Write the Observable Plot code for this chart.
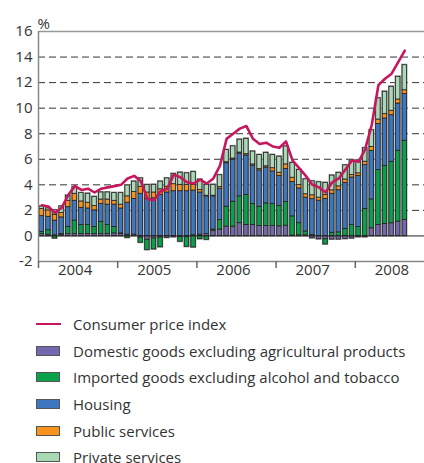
<!DOCTYPE html>
<html><head><meta charset="utf-8">
<script src="https://cdn.jsdelivr.net/npm/d3@7"></script>
<script src="https://cdn.jsdelivr.net/npm/@observablehq/plot@0.6"></script>
<style>
html,body{margin:0;padding:0;background:#fff;overflow:hidden;width:424px;height:463px}
body{font-family:"Open Sans",sans-serif;color:#333}
#legend{padding-top:21px}
.row{display:flex;align-items:center;height:26.6px;font-size:15px;white-space:nowrap}
.sw{width:24px;height:10px;margin-left:36px;margin-right:13px;box-sizing:border-box;border:1px solid #555;flex:none}
.ln{width:25px;height:2px;margin-left:36px;margin-right:12px;flex:none}
</style></head><body>
<div id="chart"></div><div id="legend"></div>
<script>
// Monthly data, Jan 2004 – Aug 2008 (12-month change, %)
const years = ["2004", "2005", "2006", "2007", "2008"];
const yTicks = [-2, 0, 2, 4, 6, 8, 10, 12, 14, 16];
const gridLines = [2, 4, 6, 8, 10, 12, 14];

const cpi = [
  2.4, 2.3, 1.8, 2.2, 3.2, 3.9, 3.6, 3.7, 3.4, 3.7, 3.8, 3.9,
  4.0, 4.5, 4.7, 4.3, 2.9, 2.8, 3.5, 3.7, 4.8, 4.6, 4.2, 4.1,
  4.4, 4.1, 4.5, 5.5, 7.6, 8.0, 8.4, 8.6, 7.6, 7.2, 7.3, 7.0,
  6.9, 7.4, 5.9, 5.3, 4.7, 4.0, 3.8, 3.4, 4.2, 4.5, 5.2, 5.9,
  5.8, 6.8, 8.7, 11.8, 12.3, 12.7, 13.6, 14.5
];
const domestic = [
  0.15, 0.1, 0.05, 0.1, 0.15, 0.15, 0.15, 0.15, 0.15, 0.15, 0.15, 0.2,
  0.15, 0.1, 0.1, -0.13, -0.3, -0.2, -0.13, -0.15, -0.1, -0.1, -0.1, 0.05,
  0.1, 0.15, 0.4, 0.5, 0.73, 0.73, 1.0, 0.86, 0.86, 0.78, 0.78, 0.78,
  0.75, 0.8, 0.03, 0.05, 0.05, -0.18, -0.26, -0.26, -0.28, -0.28, -0.24, -0.2,
  -0.1, -0.1, 0.6, 0.86, 0.94, 0.99, 1.12, 1.25
];
const imported = [
  0.15, 0.35, -0.2, 0.05, 0.55, 1.05, 0.7, 0.7, 0.55, 0.95, 0.7, 0.5,
  0.05, -0.15, 0.0, -0.4, -0.8, -0.85, -0.75, 0.0, 0.0, -0.35, -0.75, -0.9,
  -0.25, -0.3, 0.1, 0.75, 1.56, 1.95, 2.1, 2.34, 1.64, 1.5, 1.77, 1.72,
  1.6, 1.85, 1.5, 0.95, 0.3, 0.08, 0.0, -0.4, 0.25, 0.28, 0.55, 0.85,
  0.7, 2.1, 2.26, 4.3, 4.53, 4.81, 5.55, 6.2
];
const housing = [
  1.25, 1.05, 1.15, 1.3, 1.55, 1.55, 1.35, 1.3, 1.3, 1.4, 1.6, 1.75,
  1.95, 2.5, 2.8, 3.3, 2.9, 2.95, 3.2, 3.4, 3.5, 3.5, 3.5, 3.5,
  3.3, 2.95, 2.6, 2.45, 3.4, 3.3, 3.35, 3.1, 3.0, 2.85, 2.8, 2.55,
  2.35, 2.6, 2.7, 2.72, 2.65, 2.8, 2.76, 2.9, 3.05, 3.3, 3.6, 3.72,
  4.0, 3.45, 3.8, 3.6, 3.72, 3.65, 3.69, 3.65
];
const publicServices = [
  0.55, 0.5, 0.45, 0.35, 0.5, 0.55, 0.5, 0.45, 0.35, 0.35, 0.4, 0.3,
  0.3, 0.5, 0.55, 0.55, 0.5, 0.45, 0.45, 0.45, 0.55, 0.5, 0.5, 0.45,
  0.2, 0.05, 0.05, 0.13, 0.08, 0.08, 0.08, 0.1, 0.1, 0.1, 0.1, 0.25,
  0.25, 0.35, 0.33, 0.26, 0.26, 0.3, 0.24, 0.3, 0.27, 0.3, 0.27, 0.2,
  0.2, 0.26, 0.31, 0.35, 0.34, 0.35, 0.32, 0.3
];
const privateServices = [
  0.2, 0.15, 0.35, 0.5, 0.4, 0.5, 0.65, 0.7, 0.7, 0.55, 0.55, 0.6,
  0.9, 0.85, 0.8, 0.65, 0.58, 0.6, 0.6, 0.65, 0.8, 0.95, 0.9, 1.0,
  0.8, 0.85, 0.85, 0.92, 0.95, 0.95, 1.0, 1.2, 1.0, 1.1, 1.05, 1.03,
  1.25, 1.4, 1.15, 1.18, 1.17, 1.09, 1.2, 0.95, 1.15, 1.05, 1.1, 1.15,
  1.0, 1.05, 1.3, 1.66, 1.75, 1.87, 1.77, 1.96
];

const lineName = "Consumer price index";
const seriesNames = [
  "Domestic goods excluding agricultural products",
  "Imported goods excluding alcohol and tobacco",
  "Housing",
  "Public services",
  "Private services"
];
const seriesValues = [domestic, imported, housing, publicServices, privateServices];
const seriesColors = ["#7467ad", "#0aa14b", "#3d77c0", "#f7941d", "#a9d9b5"];
const lineColor = "#c6175e";

const nMonths = cpi.length;
const rows = [];
seriesValues.forEach((arr, s) => arr.forEach((v, i) => rows.push({i, j: i + 1, series: seriesNames[s], value: v})));
const bars = d3.range(nMonths).map(i => ({
  i, j: i + 1,
  lo: d3.sum(seriesValues, a => Math.min(0, a[i])),
  hi: d3.sum(seriesValues, a => Math.max(0, a[i]))
}));
const yearStarts = years.map((y, k) => k * 12);

const chart = Plot.plot({
  width: 424, height: 290,
  marginLeft: 38, marginRight: 0, marginTop: 31, marginBottom: 29,
  x: {domain: [0, 60], range: [38, 434], axis: null},
  y: {domain: [-2, 16], axis: null},
  color: {domain: seriesNames, range: seriesColors},
  style: {fontFamily: "Open Sans, sans-serif", fontSize: "15px", color: "#333", background: "transparent"},
  marks: [
    Plot.ruleY(gridLines, {stroke: "#333", strokeWidth: 1, strokeDasharray: "7,4"}),
    Plot.rect(bars, {x1: "i", x2: "j", y1: "lo", y2: "hi", fill: "#8c8c8c",
      insetLeft: 0.2, insetRight: 0.2, insetTop: -1, insetBottom: -1}),
    Plot.rectY(rows, {x1: "i", x2: "j", y: "value", fill: "series",
      stroke: "#222", strokeWidth: 0.8, insetLeft: 1.1, insetRight: 1.1}),
    Plot.ruleY([0], {stroke: "#222", strokeWidth: 1}),
    Plot.ruleY([16], {stroke: "#999", strokeWidth: 1.5}),
    Plot.ruleY([-2], {stroke: "#888", strokeWidth: 1.5}),
    Plot.ruleX([0], {stroke: "#888", strokeWidth: 1.5}),
    Plot.ruleX(yearStarts, {x: d => d, y1: -2, y2: -2, insetBottom: -7, stroke: "#666", strokeWidth: 1.5}),
    Plot.line(cpi, {x: (d, i) => i + 0.5, y: d => d, stroke: lineColor, strokeWidth: 2.6, strokeLinejoin: "round"}),
    Plot.text(yTicks, {y: d => d, frameAnchor: "left", dx: -6, textAnchor: "end", text: d => String(d), fill: "#333", fontSize: 15}),
    Plot.text(years, {x: (d, k) => k * 12 + 6, frameAnchor: "bottom", dy: 13, dx: -3, text: d => d, fill: "#333", fontSize: 15}),
    Plot.text(["%"], {frameAnchor: "top-left", dy: -13, dx: -1, textAnchor: "start", text: d => d, fill: "#333", fontSize: 15})
  ]
});
document.getElementById("chart").appendChild(chart);

const legend = document.getElementById("legend");
const addRow = (swHtml, label) => {
  const r = document.createElement("div");
  r.className = "row";
  r.innerHTML = swHtml + `<span>${label}</span>`;
  legend.appendChild(r);
};
addRow(`<div class="ln" style="background:${lineColor}"></div>`, lineName);
seriesNames.forEach((n, s) => addRow(`<div class="sw" style="background:${seriesColors[s]}"></div>`, n));
</script>
</body></html>
